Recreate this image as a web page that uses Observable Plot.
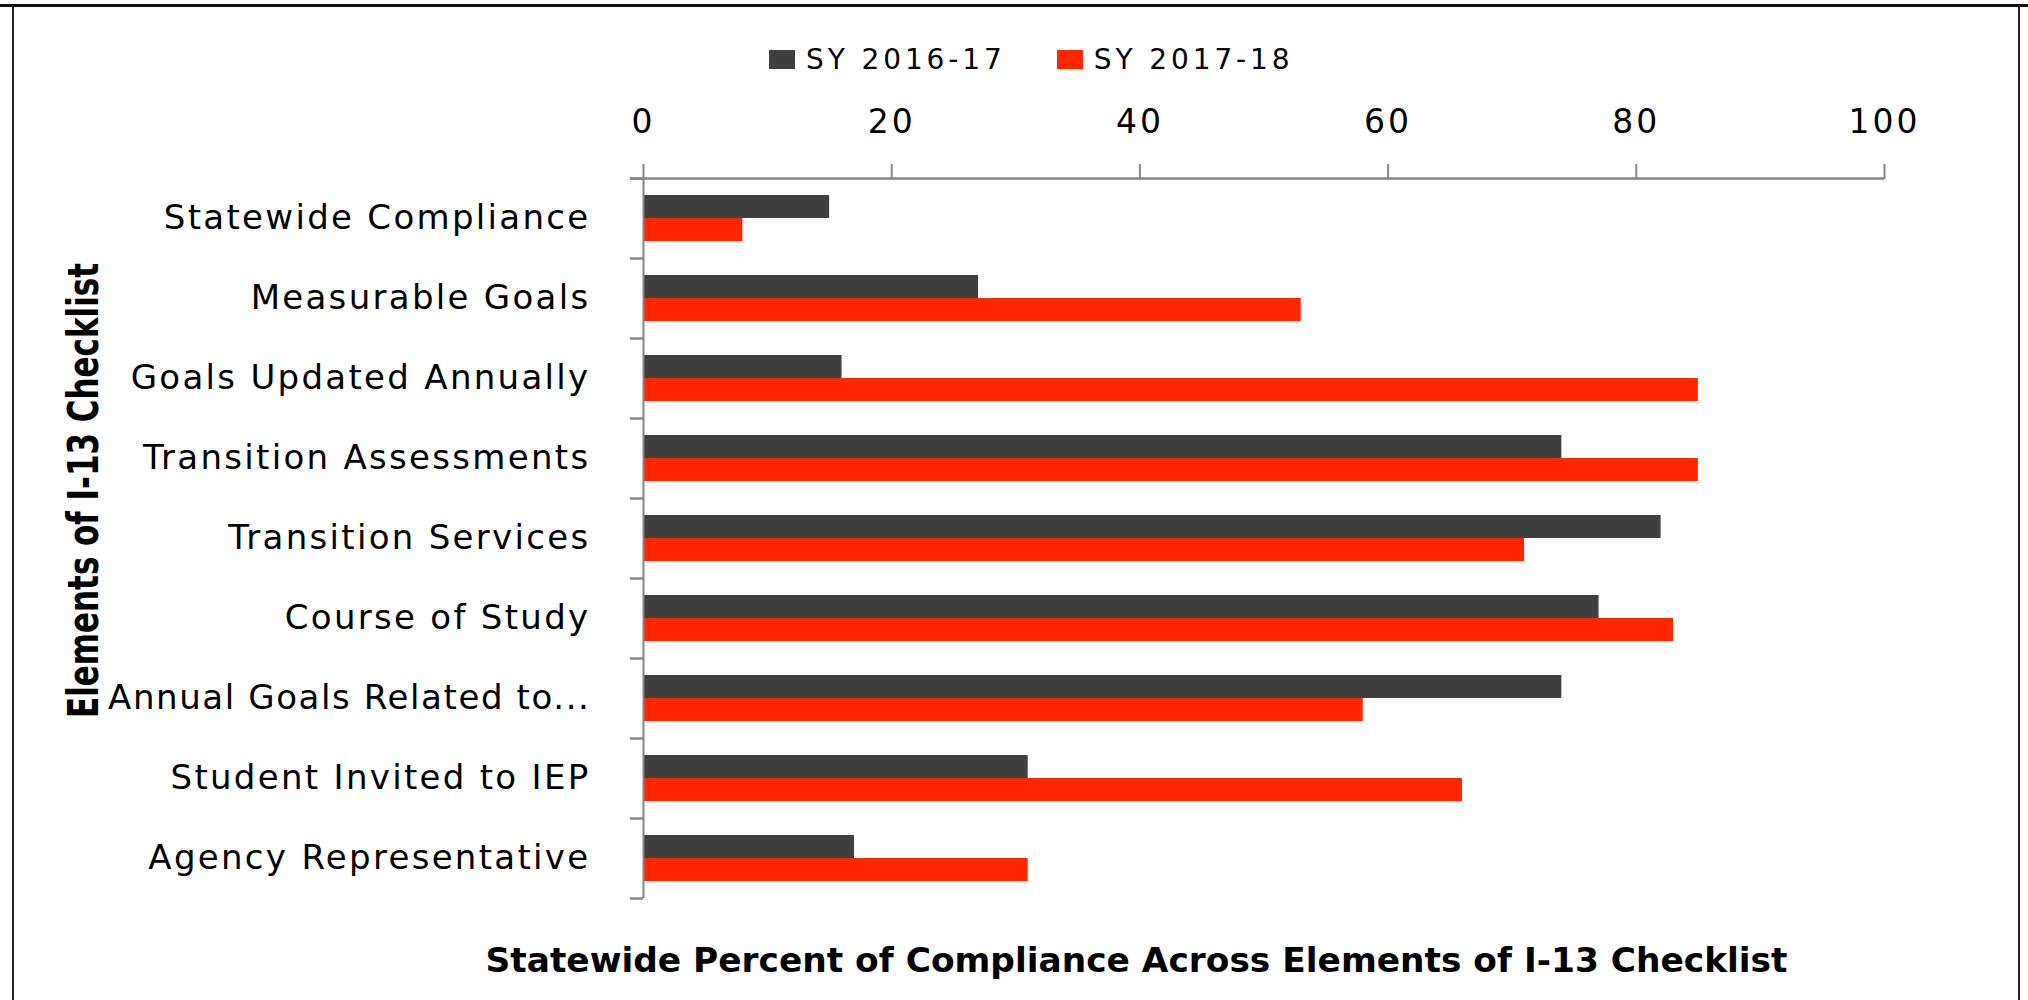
<!DOCTYPE html>
<html>
<head>
<meta charset="utf-8">
<script src="https://cdn.jsdelivr.net/npm/d3@7"></script>
<script src="https://cdn.jsdelivr.net/npm/@observablehq/plot@0.6"></script>
<style>
  html, body { margin: 0; padding: 0; background: #fff; }
  #page { position: relative; width: 2028px; height: 1000px; overflow: hidden; font-family: "DejaVu Sans", sans-serif; }
  #border { position: absolute; left: 12px; top: 4px; width: 2004px; height: 1000px; border-top: 3px solid #111; border-left: 2px solid #222; border-right: 2px solid #222; }
  #topline { position: absolute; left: 0; top: 4px; width: 2028px; height: 3px; background: #111; }
  #chart { position: absolute; left: 0; top: 0; }
  #legend { position: absolute; left: 769px; top: 43px; display: flex; align-items: center; font-size: 28px; letter-spacing: 3.9px; color: #000; }
  .item { display: flex; align-items: center; margin-right: 51px; }
  .sw { width: 26px; height: 19px; margin-right: 11px; }
</style>
</head>
<body>
<div id="page">
  <div id="topline"></div>
  <div id="border"></div>
  <div id="chart"></div>
  <div id="legend"></div>
</div>
<script>
const categories = [
  "Statewide Compliance",
  "Measurable Goals",
  "Goals Updated Annually",
  "Transition Assessments",
  "Transition Services",
  "Course of Study",
  "Annual Goals Related to...",
  "Student Invited to IEP",
  "Agency Representative"
];
const seriesNames = ["SY 2016-17", "SY 2017-18"];
const seriesColors = ["#404040", "#ff2600"];
const values2016 = [15, 27, 16, 74, 82, 77, 74, 31, 17];
const values2017 = [8, 53, 85, 85, 71, 83, 58, 66, 31];
const xTicks = [0, 20, 40, 60, 80, 100];
const yTitle = "Elements of I-13 Checklist";
const xTitle = "Statewide Percent of Compliance Across Elements of I-13 Checklist";

const rows16 = categories.map((c, i) => ({category: c, series: seriesNames[0], value: values2016[i]}));
const rows17 = categories.map((c, i) => ({category: c, series: seriesNames[1], value: values2017[i]}));

const axisGray = "#868686";

const chart = Plot.plot({
  width: 2028,
  height: 1000,
  marginLeft: 643,
  marginRight: 144,
  marginTop: 178,
  marginBottom: 102,
  style: {fontFamily: "DejaVu Sans, sans-serif", background: "transparent", color: "#000", overflow: "visible"},
  x: {domain: [0, 100], axis: null},
  y: {domain: categories, padding: 0, axis: null},
  color: {domain: seriesNames, range: seriesColors},
  marks: [
    Plot.barX(rows16, {x: "value", y: "category", fill: "series", insetTop: 17, insetBottom: 40}),
    Plot.barX(rows17, {x: "value", y: "category", fill: "series", insetTop: 40, insetBottom: 17}),
    Plot.ruleX([0], {stroke: axisGray, strokeWidth: 2}),
    Plot.ruleY(categories, {y: d => d, x1: 0, x2: 0, insetLeft: -13, dy: -40, stroke: axisGray, strokeWidth: 2.5}),
    Plot.ruleY([categories[categories.length - 1]], {y: d => d, x1: 0, x2: 0, insetLeft: -13, dy: 40, stroke: axisGray, strokeWidth: 2.5}),
    Plot.ruleY([categories[0]], {y: d => d, x1: 0, x2: 100, insetLeft: -13, dy: -40, stroke: axisGray, strokeWidth: 2.5}),
    Plot.axisX(xTicks, {anchor: "top", tickSize: 15, tickPadding: 31, fontSize: 33, stroke: axisGray, strokeWidth: 2, label: null, fill: "#000"}),
    Plot.axisY({anchor: "left", tickSize: 0, tickPadding: 53, fontSize: 34, label: null, fill: "#000"}),
    Plot.text([yTitle], {text: d => d, frameAnchor: "left", textAnchor: "middle", lineAnchor: "middle", rotate: -90, dx: -559, dy: -48, fontSize: 43, fontWeight: "bold", fill: "#000"}),
    Plot.text([xTitle], {text: d => d, frameAnchor: "bottom", textAnchor: "middle", lineAnchor: "middle", dx: -127.5, dy: 63, fontSize: 33, fontWeight: "bold", fill: "#000"})
  ]
});
document.getElementById("chart").appendChild(chart);

const svg = d3.select(chart);
svg.selectAll('g[aria-label="x-axis tick label"] text').style("letter-spacing", "3px");
svg.selectAll('g[aria-label="y-axis tick label"] text')
  .style("letter-spacing", function() { return this.textContent.length > 24 ? "1.6px" : "2.3px"; });
svg.selectAll("text").filter(function() { return this.textContent === yTitle; })
  .style("font-family", "'Liberation Sans Narrow', 'DejaVu Sans Condensed', sans-serif")
  .attr("textLength", 455).attr("lengthAdjust", "spacingAndGlyphs");
svg.selectAll("text").filter(function() { return this.textContent === xTitle; })
  .attr("textLength", 1302).attr("lengthAdjust", "spacingAndGlyphs");

const legend = d3.select("#legend");
seriesNames.forEach((name, i) => {
  const item = legend.append("div").attr("class", "item");
  item.append("div").attr("class", "sw").style("background", seriesColors[i]);
  item.append("span").text(name);
});
</script>
</body>
</html>
